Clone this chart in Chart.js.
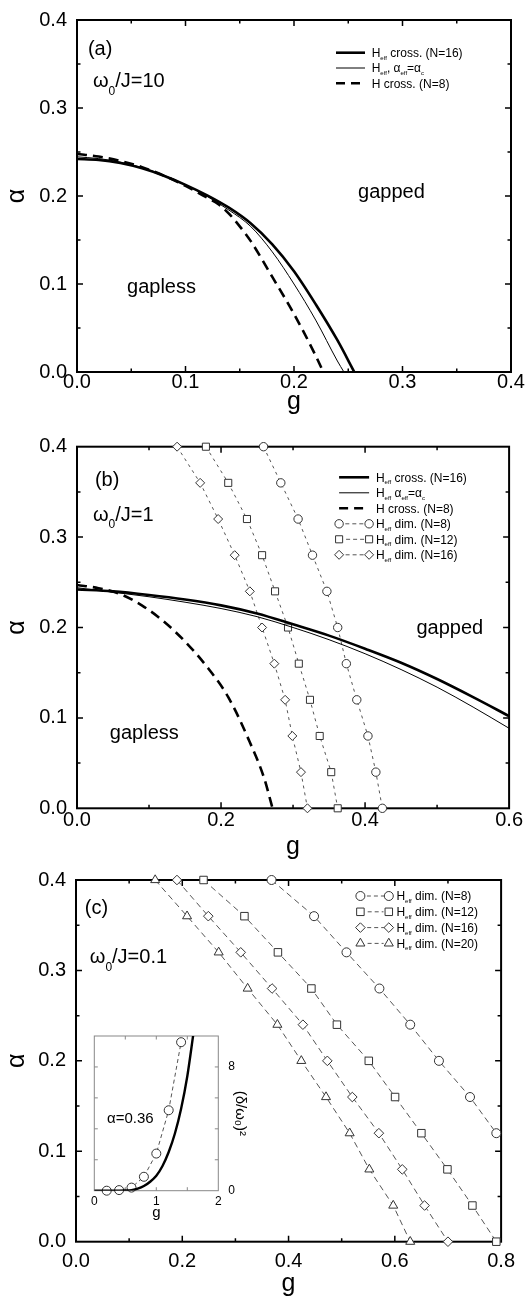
<!DOCTYPE html>
<html><head><meta charset="utf-8">
<script src="https://cdn.jsdelivr.net/npm/chart.js@4.4.1/dist/chart.umd.min.js"></script>
<style>
html,body{margin:0;padding:0;background:#fff;}
#wrap{position:relative;width:525px;height:1298px;overflow:hidden;background:#fff;}
canvas{position:absolute;left:0;}
</style></head><body>
<div id="wrap">
<canvas id="ca" width="525" height="415" style="top:0px"></canvas>
<canvas id="cb" width="525" height="440" style="top:420px"></canvas>
<canvas id="cc" width="525" height="447" style="top:850px"></canvas>
<canvas id="ci" width="190" height="200" style="top:1020px;left:60px"></canvas>
</div>
<script>
// ---------------- DATA ----------------
// Panel (a)  omega0/J = 10
const A_CROSS16_G = [0,0.02,0.04,0.06,0.08,0.10,0.12,0.14,0.16,0.18,0.20,0.22,0.24,0.2556];
const A_CROSS16   = [0.242,0.241,0.2375,0.2315,0.2231,0.2127,0.2007,0.1867,0.169,0.145,0.1145,0.077,0.0361,0];
const A_ALPHAC_G  = [0,0.02,0.04,0.06,0.08,0.10,0.12,0.14,0.16,0.18,0.20,0.22,0.24,0.246];
const A_ALPHAC    = [0.2445,0.2425,0.2385,0.2322,0.2236,0.2128,0.1995,0.184,0.1655,0.1365,0.100,0.059,0.0125,0];
const A_H8_G      = [0,0.02,0.04,0.06,0.08,0.10,0.12,0.13,0.14,0.15,0.16,0.18,0.20,0.22,0.227];
const A_H8        = [0.2478,0.2448,0.2398,0.2328,0.2232,0.2115,0.198,0.191,0.180,0.1655,0.149,0.108,0.066,0.0185,0];

// Panel (b)  omega0/J = 1
const B_CURVE_G   = [0,0.05,0.1,0.15,0.2,0.25,0.3,0.35,0.4,0.45,0.5,0.55,0.6];
const B_CROSS16   = [0.242,0.240,0.236,0.231,0.2245,0.2155,0.2035,0.191,0.1765,0.161,0.143,0.123,0.102];
const B_ALPHAC    = [0.244,0.239,0.234,0.228,0.221,0.212,0.200,0.1865,0.171,0.1535,0.134,0.112,0.0885];
const B_H8_G      = [0,0.03,0.06,0.09,0.12,0.15,0.18,0.21,0.24,0.26,0.2715];
const B_H8        = [0.247,0.2435,0.237,0.2245,0.207,0.1845,0.157,0.123,0.073,0.033,0];
const B_DIM_ALPHA = [0.4,0.36,0.32,0.28,0.24,0.20,0.16,0.12,0.08,0.04,0.0];
const B_DIM8_G    = [0.259,0.283,0.307,0.327,0.347,0.362,0.374,0.3885,0.404,0.415,0.424];
const B_DIM12_G   = [0.179,0.210,0.236,0.257,0.275,0.293,0.308,0.3235,0.337,0.353,0.362];
const B_DIM16_G   = [0.139,0.171,0.196,0.219,0.240,0.257,0.274,0.289,0.299,0.311,0.320];

// Panel (c)  omega0/J = 0.1
const C_DIM_ALPHA  = [0.4,0.36,0.32,0.28,0.24,0.20,0.16,0.12,0.08,0.04,0.0];
const C_DIM8_ALPHA = [0.4,0.36,0.32,0.28,0.24,0.20,0.16,0.12];
const C_DIM8_G     = [0.368,0.448,0.509,0.571,0.629,0.683,0.7415,0.791];
const C_DIM12_G    = [0.240,0.317,0.380,0.443,0.491,0.551,0.6005,0.650,0.699,0.746,0.791];
const C_DIM16_G    = [0.190,0.249,0.310,0.369,0.427,0.473,0.520,0.570,0.614,0.656,0.700];
const C_DIM20_G    = [0.149,0.209,0.2685,0.323,0.379,0.424,0.4705,0.515,0.552,0.597,0.629];

// Inset of (c): alpha = 0.36
const IN_DIM_G   = [0.2,0.4,0.6,0.8,1.0,1.2,1.4];
const IN_DIM_Y   = [0,0.04,0.2,0.9,2.4,5.2,9.6];
const IN_CURVE_G = [0,0.2,0.4,0.5,0.6,0.7,0.8,0.9,1.0,1.1,1.2,1.3,1.4,1.5,1.6];
const IN_CURVE_Y = [0,0,0,0.01,0.04,0.13,0.3,0.58,0.97,1.6,2.5,3.7,5.3,7.4,10.2];

// ---------------- HELPERS ----------------
const FONT = "'Liberation Sans', Arial, Helvetica, sans-serif";
Chart.defaults.font.family = FONT;
Chart.defaults.color = '#000';

const pts = (xs, ys) => xs.map((x, i) => ({x: x, y: ys[i]}));

function lineDs(xs, ys, width, dash) {
  return {data: pts(xs, ys), showLine: true, borderColor: '#000', borderWidth: width,
    borderDash: dash || [], pointRadius: 0, pointHoverRadius: 0,
    cubicInterpolationMode: 'monotone', fill: false};
}
function markDs(xs, ys, style, r, dash) {
  return {data: pts(xs, ys), showLine: true, borderColor: '#555', borderWidth: 1,
    borderDash: dash, pointStyle: style, pointRadius: r, pointHoverRadius: r,
    pointBorderColor: '#333', pointBackgroundColor: '#fff', pointBorderWidth: 1,
    tension: 0, clip: 12, fill: false};
}

function drawMarker(ctx, style, x, y, r) {
  ctx.beginPath();
  if (style === 'circle') { ctx.arc(x, y, r, 0, Math.PI * 2); }
  else if (style === 'rect') { const s = r * Math.SQRT1_2; ctx.rect(x - s, y - s, 2 * s, 2 * s); }
  else if (style === 'rectRot') { ctx.moveTo(x, y - r); ctx.lineTo(x + r, y); ctx.lineTo(x, y + r); ctx.lineTo(x - r, y); ctx.closePath(); }
  else if (style === 'triangle') {
    for (let k = 0; k < 3; k++) { const a = k * 2 * Math.PI / 3; const px = x + Math.sin(a) * r, py = y - Math.cos(a) * r; k ? ctx.lineTo(px, py) : ctx.moveTo(px, py); }
    ctx.closePath();
  }
  ctx.fillStyle = '#fff'; ctx.fill();
  ctx.strokeStyle = '#333'; ctx.lineWidth = 1; ctx.stroke();
}

// parts: [text, sizeFactor, dyFactor]; y is visual middle of main text
function drawRich(ctx, x, y, parts, size) {
  ctx.save();
  ctx.textBaseline = 'alphabetic'; ctx.textAlign = 'left'; ctx.fillStyle = '#000';
  const base = y + size * 0.36;
  let cx = x;
  for (const p of parts) {
    const s = size * (p[1] || 1);
    ctx.font = s + 'px ' + FONT;
    ctx.fillText(p[0], cx, base + size * (p[2] || 0));
    cx += ctx.measureText(p[0]).width;
  }
  ctx.restore();
}

const decoPlugin = {
  id: 'deco',
  beforeDraw(chart, args, o) {
    if (o.fillArea) {
      const a = chart.chartArea, ctx = chart.ctx;
      ctx.save(); ctx.fillStyle = '#fff'; ctx.fillRect(a.left, a.top, a.right - a.left, a.bottom - a.top); ctx.restore();
    }
  },
  beforeDatasetsDraw(chart, args, o) {
    const ctx = chart.ctx, a = chart.chartArea, xs = chart.scales.x, ys = chart.scales.y;
    ctx.save();
    ctx.strokeStyle = o.color; ctx.lineWidth = o.tickWidth;
    const isMult = (v, m) => Math.abs(v / m - Math.round(v / m)) < 1e-6;
    const nX = Math.round((xs.max - xs.min) / o.xMinor);
    for (let i = 1; i < nX; i++) {
      const v = xs.min + i * o.xMinor, px = xs.getPixelForValue(v);
      const L = isMult(v, o.xMajor) ? o.major : o.minor;
      ctx.beginPath(); ctx.moveTo(px, a.bottom); ctx.lineTo(px, a.bottom - L);
      ctx.moveTo(px, a.top); ctx.lineTo(px, a.top + L); ctx.stroke();
    }
    const nY = Math.round((ys.max - ys.min) / o.yMinor);
    for (let i = 1; i < nY; i++) {
      const v = ys.min + i * o.yMinor, py = ys.getPixelForValue(v);
      const L = isMult(v, o.yMajor) ? o.major : o.minor;
      ctx.beginPath(); ctx.moveTo(a.left, py); ctx.lineTo(a.left + L, py);
      ctx.moveTo(a.right, py); ctx.lineTo(a.right - L, py); ctx.stroke();
    }
    ctx.lineWidth = o.frameWidth;
    ctx.strokeRect(a.left, a.top, a.right - a.left, a.bottom - a.top);
    ctx.restore();
  },
  afterDatasetsDraw(chart, args, o) {
    const ctx = chart.ctx, a = chart.chartArea, xs = chart.scales.x, ys = chart.scales.y;
    (o.notes || []).forEach(n => drawRich(ctx, xs.getPixelForValue(n.x), ys.getPixelForValue(n.y), n.parts, n.size));
    const L = o.legend;
    if (!L) return;
    L.rows.forEach((r, i) => {
      const y = a.top + L.y0 + i * L.dy;
      const x1 = a.right - L.x1, x2 = a.right - L.x2;
      ctx.save();
      if (r.kind === 'line') {
        ctx.strokeStyle = '#000'; ctx.lineWidth = r.w; ctx.setLineDash(r.dash || []);
        ctx.beginPath(); ctx.moveTo(x1, y); ctx.lineTo(x2, y); ctx.stroke();
      } else {
        ctx.strokeStyle = '#555'; ctx.lineWidth = 1; ctx.setLineDash([4, 3]);
        ctx.beginPath(); ctx.moveTo(x1 + r.r + 2, y); ctx.lineTo(x2 - r.r, y); ctx.stroke();
        ctx.setLineDash([]);
        drawMarker(ctx, r.style, x1, y, r.r);
        drawMarker(ctx, r.style, x2, y, r.r);
      }
      ctx.restore();
      drawRich(ctx, a.right - L.tx, y, r.parts, L.size);
    });
  }
};

function scales(c) {
  return {
    x: {type: 'linear', min: c.xmin, max: c.xmax, position: 'bottom',
      afterFit: s => { s.height = c.xh; },
      grid: {display: false, drawTicks: false}, border: {display: false},
      ticks: {stepSize: c.xstep, autoSkip: false, maxRotation: 0, padding: c.xpad, color: '#000',
        font: {size: c.tickSize, lineHeight: 1}, callback: c.xcb},
      title: {display: true, text: 'g', color: '#000', font: {size: c.titleSize, lineHeight: 1}, padding: {top: 0, bottom: 0}}},
    y: {type: 'linear', min: c.ymin, max: c.ymax, position: c.ypos || 'left',
      afterFit: s => { s.width = c.yw; },
      grid: {display: false, drawTicks: false}, border: {display: false},
      ticks: {stepSize: c.ystep, autoSkip: false, padding: c.ypad, color: '#000',
        font: {size: c.tickSize, lineHeight: 1}, callback: c.ycb},
      title: {display: true, text: c.ytitle, color: '#000', font: {size: c.ytitleSize || c.titleSize, lineHeight: 1}, padding: {top: c.ytpad, bottom: 0}}}
  };
}

const f1 = v => Number(v).toFixed(1);
const HEFF = [['H'], ['eff', 0.5, 0.22]];
const baseOpts = {responsive: false, animation: false, devicePixelRatio: 1, events: []};
const tickCfg = {color: '#000', tickWidth: 1.5, frameWidth: 2, major: 6, minor: 3.5};

// ---------------- PANEL (a) ----------------
new Chart(document.getElementById('ca'), {
  type: 'scatter',
  data: {datasets: [
    lineDs(A_CROSS16_G, A_CROSS16, 2.6),
    lineDs(A_ALPHAC_G, A_ALPHAC, 1),
    lineDs(A_H8_G, A_H8, 2.6, [10, 6])
  ]},
  options: Object.assign({}, baseOpts, {
    layout: {padding: {left: 0, top: 10, right: 14, bottom: 0}},
    scales: scales({xmin: 0, xmax: 0.4, xstep: 0.1, ymin: 0, ymax: 0.4, ystep: 0.1, xh: 43, yw: 77,
      xpad: 0, ypad: 10, tickSize: 20, titleSize: 25, ytitle: 'α', ytpad: 4.5, xcb: f1, ycb: f1}),
    plugins: {legend: {display: false}, tooltip: {enabled: false},
      deco: Object.assign({}, tickCfg, {xMinor: 0.05, xMajor: 0.1, yMinor: 0.05, yMajor: 0.1,
        notes: [
          {x: 0.0101, y: 0.368, size: 20, parts: [['(a)']]},
          {x: 0.0147, y: 0.3315, size: 20, parts: [['ω'], ['0', 0.6, 0.38], ['/J=10']]},
          {x: 0.259, y: 0.2055, size: 20, parts: [['gapped']]},
          {x: 0.0461, y: 0.0983, size: 20, parts: [['gapless']]}
        ],
        legend: {x1: 175, x2: 146, tx: 139.3, y0: 32.7, dy: 15.3, size: 12, rows: [
          {kind: 'line', w: 2.6, parts: HEFF.concat([[' cross. (N=16)']])},
          {kind: 'line', w: 1, parts: HEFF.concat([[', α'], ['eff', 0.5, 0.22], ['=α'], ['c', 0.5, 0.22]])},
          {kind: 'line', w: 2.6, dash: [9, 6], parts: [['H cross. (N=8)']]}
        ]}
      })}
  }),
  plugins: [decoPlugin]
});

// ---------------- PANEL (b) ----------------
new Chart(document.getElementById('cb'), {
  type: 'scatter',
  data: {datasets: [
    lineDs(B_CURVE_G, B_CROSS16, 2.6),
    lineDs(B_CURVE_G, B_ALPHAC, 1),
    lineDs(B_H8_G, B_H8, 2.6, [10, 6]),
    markDs(B_DIM8_G, B_DIM_ALPHA, 'circle', 4.2, [3, 4]),
    markDs(B_DIM12_G, B_DIM_ALPHA, 'rect', 5, [3, 4]),
    markDs(B_DIM16_G, B_DIM_ALPHA, 'rectRot', 4.5, [3, 4])
  ]},
  options: Object.assign({}, baseOpts, {
    layout: {padding: {left: 0, top: 26.7, right: 14, bottom: 0}},
    scales: scales({xmin: 0, xmax: 0.6, xstep: 0.2, ymin: 0, ymax: 0.4, ystep: 0.1, xh: 51.7, yw: 77,
      xpad: 2, ypad: 10, tickSize: 20, titleSize: 25, ytitle: 'α', ytpad: 4.5, xcb: f1, ycb: f1}),
    plugins: {legend: {display: false}, tooltip: {enabled: false},
      deco: Object.assign({}, tickCfg, {xMinor: 0.1, xMajor: 0.2, yMinor: 0.05, yMajor: 0.1,
        notes: [
          {x: 0.0249, y: 0.365, size: 20, parts: [['(b)']]},
          {x: 0.0221, y: 0.3263, size: 20, parts: [['ω'], ['0', 0.6, 0.38], ['/J=1']]},
          {x: 0.4714, y: 0.2009, size: 20, parts: [['gapped']]},
          {x: 0.0456, y: 0.0847, size: 20, parts: [['gapless']]}
        ],
        legend: {x1: 170, x2: 140, tx: 133.2, y0: 30.6, dy: 15.5, size: 12, rows: [
          {kind: 'line', w: 2.6, parts: HEFF.concat([[' cross. (N=16)']])},
          {kind: 'line', w: 1, parts: HEFF.concat([[' α'], ['eff', 0.5, 0.22], ['=α'], ['c', 0.5, 0.22]])},
          {kind: 'line', w: 2.6, dash: [9, 6], parts: [['H cross. (N=8)']]},
          {kind: 'mark', style: 'circle', r: 4.2, parts: HEFF.concat([[' dim. (N=8)']])},
          {kind: 'mark', style: 'rect', r: 5, parts: HEFF.concat([[' dim. (N=12)']])},
          {kind: 'mark', style: 'rectRot', r: 4.5, parts: HEFF.concat([[' dim. (N=16)']])}
        ]}
      })}
  }),
  plugins: [decoPlugin]
});

// ---------------- PANEL (c) ----------------
new Chart(document.getElementById('cc'), {
  type: 'scatter',
  data: {datasets: [
    markDs(C_DIM8_G, C_DIM8_ALPHA, 'circle', 4.5, [6, 4]),
    markDs(C_DIM12_G, C_DIM_ALPHA, 'rect', 5.3, [6, 4]),
    markDs(C_DIM16_G, C_DIM_ALPHA, 'rectRot', 4.8, [6, 4]),
    markDs(C_DIM20_G, C_DIM_ALPHA, 'triangle', 5.2, [6, 4])
  ]},
  options: Object.assign({}, baseOpts, {
    layout: {padding: {left: 0, top: 30, right: 16, bottom: 0}},
    scales: scales({xmin: 0, xmax: 0.8, xstep: 0.2, ymin: 0, ymax: 0.4, ystep: 0.1, xh: 55.3, yw: 76,
      xpad: 10, ypad: 10, tickSize: 20, titleSize: 25, ytitle: 'α', ytpad: 4.5, xcb: f1, ycb: f1}),
    plugins: {legend: {display: false}, tooltip: {enabled: false},
      deco: Object.assign({}, tickCfg, {xMinor: 0.1, xMajor: 0.2, yMinor: 0.05, yMajor: 0.1,
        notes: [
          {x: 0.0166, y: 0.3705, size: 20, parts: [['(c)']]},
          {x: 0.0259, y: 0.316, size: 20, parts: [['ω'], ['0', 0.6, 0.38], ['/J=0.1']]}
        ],
        legend: {x1: 140.7, x2: 112.3, tx: 104.7, y0: 16, dy: 15.8, size: 12, rows: [
          {kind: 'mark', style: 'circle', r: 4.5, parts: HEFF.concat([[' dim. (N=8)']])},
          {kind: 'mark', style: 'rect', r: 5.3, parts: HEFF.concat([[' dim. (N=12)']])},
          {kind: 'mark', style: 'rectRot', r: 4.8, parts: HEFF.concat([[' dim. (N=16)']])},
          {kind: 'mark', style: 'triangle', r: 5.2, parts: HEFF.concat([[' dim. (N=20)']])}
        ]}
      })}
  }),
  plugins: [decoPlugin]
});

// ---------------- INSET ----------------
new Chart(document.getElementById('ci'), {
  type: 'scatter',
  data: {datasets: [
    lineDs(IN_CURVE_G, IN_CURVE_Y, 2.4),
    markDs(IN_DIM_G, IN_DIM_Y, 'circle', 4.5, [4, 3])
  ]},
  options: Object.assign({}, baseOpts, {
    layout: {padding: {left: 34.3, top: 14, right: 0, bottom: 0}},
    scales: scales({xmin: 0, xmax: 2, xstep: 1, ymin: 0, ymax: 10, ystep: 2, xh: 29.3, yw: 31.7, ypos: 'right',
      xpad: 5, ypad: 10, tickSize: 12, titleSize: 15, ytitleSize: 15, ytitle: '(δ/ω₀)²', ytpad: 2.5,
      xcb: v => String(v), ycb: v => (v === 0 || v === 8) ? String(v) : ''}),
    plugins: {legend: {display: false}, tooltip: {enabled: false},
      deco: {fillArea: true, color: '#888', tickWidth: 1, frameWidth: 1, major: 3.5, minor: 3.5,
        xMinor: 0.5, xMajor: 1, yMinor: 2, yMajor: 2,
        notes: [{x: 0.205, y: 4.7, size: 15, parts: [['α=0.36']]}]}}
  }),
  plugins: [decoPlugin]
});
</script>
</body></html>
